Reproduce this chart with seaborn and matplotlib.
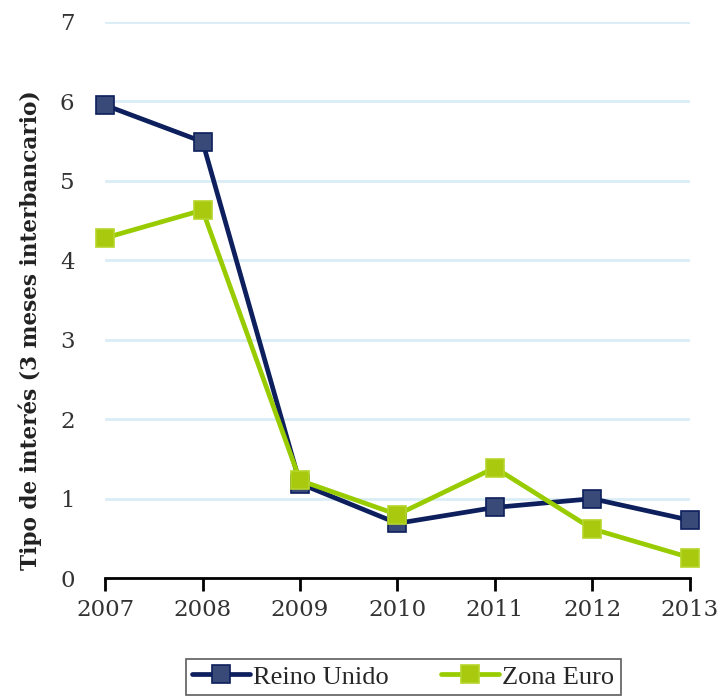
import pandas as pd
import seaborn as sns
import matplotlib.pyplot as plt

years = [2007, 2008, 2009, 2010, 2011, 2012, 2013]
reino_unido = [5.95, 5.49, 1.19, 0.69, 0.89, 1.00, 0.73]
zona_euro = [4.28, 4.63, 1.23, 0.80, 1.39, 0.62, 0.26]
series_names = ['Reino Unido', 'Zona Euro']

df = pd.DataFrame({
    'year': years * 2,
    'rate': reino_unido + zona_euro,
    'serie': [series_names[0]] * len(years) + [series_names[1]] * len(years),
})

sns.set_style('white')
plt.rcParams['font.family'] = ['DejaVu Serif']

fig = plt.figure(figsize=(7.2, 7.0), dpi=100)
ax = fig.add_axes([0.146, 0.174, 0.812, 0.795])

line_colors = {'Reino Unido': '#0d1f5c', 'Zona Euro': '#99cc00'}
face_colors = {'Reino Unido': '#394a78', 'Zona Euro': '#a9c90f'}
edge_colors = {'Reino Unido': '#0d1f5c', 'Zona Euro': '#b5d62a'}

for name in series_names:
    sub = df[df['serie'] == name]
    sns.lineplot(data=sub, x='year', y='rate', ax=ax, color=line_colors[name],
                 linewidth=3.4, marker='s', markersize=13,
                 markerfacecolor=face_colors[name], markeredgecolor=edge_colors[name],
                 markeredgewidth=1.2, label=name, zorder=3)

ax.set_xlim(2007, 2013)
ax.set_ylim(0, 7)
ax.set_yticks(range(0, 8))
ax.set_xticks(years)
ax.yaxis.grid(True, color='#d9edf6', linewidth=2)
ax.xaxis.grid(False)
for side in ['top', 'right', 'left']:
    ax.spines[side].set_visible(False)
ax.spines['bottom'].set_color('black')
ax.spines['bottom'].set_linewidth(2)
ax.spines['bottom'].set_zorder(4)
ax.tick_params(axis='x', bottom=True, direction='out', length=9, width=2, color='black',
               labelsize=16.5, pad=6, labelcolor='#333333')
ax.tick_params(axis='y', left=False, length=0, labelsize=16.5, pad=22, labelcolor='#333333')
ax.set_xlabel('')
ax.set_ylabel('Tipo de interés (3 meses interbancario)', fontsize=15.6,
              fontweight='bold', color='#222222')
ax.yaxis.set_label_coords(-0.108, 0.446)
for ln in ax.lines:
    ln.set_clip_on(False)

ax.legend_.remove()
handles, labels = ax.get_legend_handles_labels()
leg = fig.legend(handles, labels, loc='lower center', bbox_to_anchor=(0.56, -0.012),
                 ncol=2, frameon=True, fancybox=False, edgecolor='#333333',
                 prop={'family': 'Liberation Serif', 'size': 19},
                 handlelength=2.2, handletextpad=0.1, columnspacing=2.0,
                 borderpad=0.25)
leg.get_frame().set_linewidth(1.2)

fig.savefig('out.png', dpi=100)
